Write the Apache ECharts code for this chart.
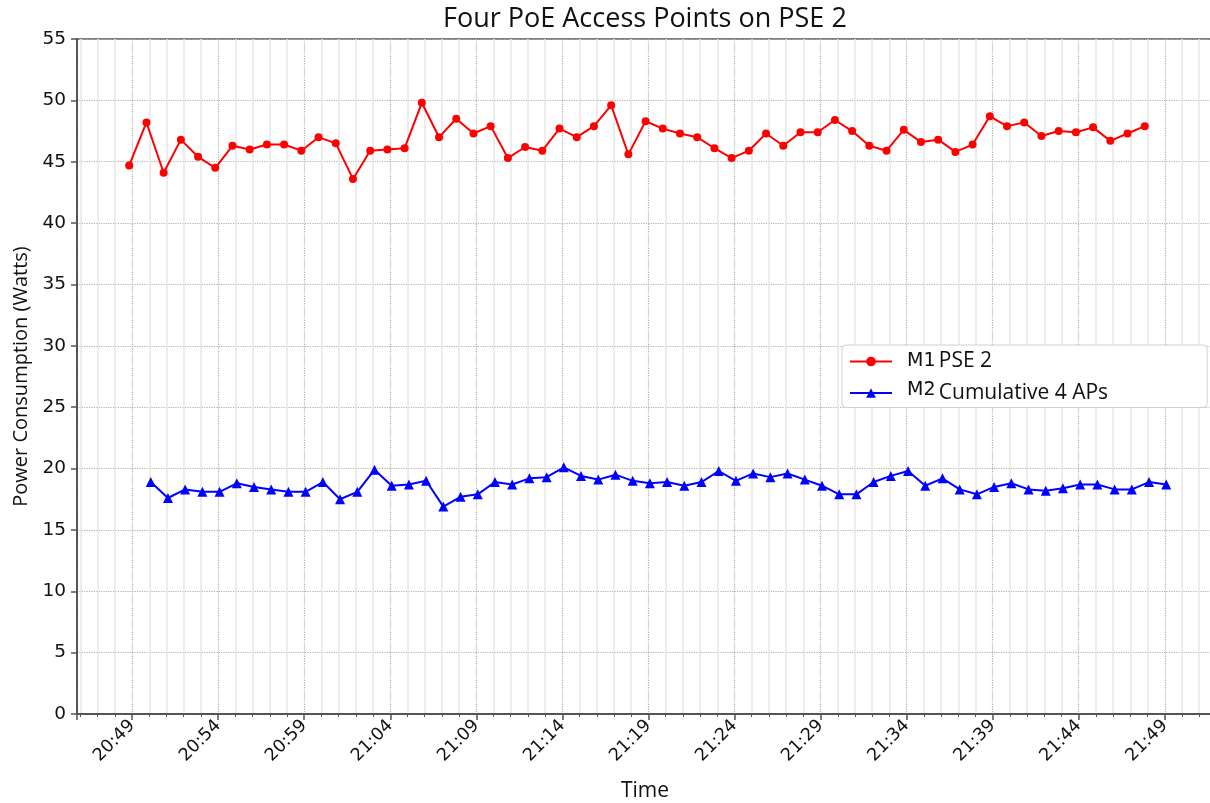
<!DOCTYPE html>
<html>
<head>
<meta charset="utf-8">
<script src="https://cdn.jsdelivr.net/npm/echarts@6/dist/echarts.min.js"></script>
<style>
    html,body{margin:0;padding:0;background:#fff;}
    #poe{width:1210px;height:803px;}
</style>
</head>
<body>
<div id="poe"></div>
<script>
// one sample per minute
const redStart = '20:48:50';
const blueStart = '20:50:05';
const redValues = [44.7, 48.2, 44.1, 46.8, 45.4, 44.5, 46.3, 46.0, 46.4, 46.4,
    45.9, 47.0, 46.5, 43.6, 45.9, 46.0, 46.1, 49.8, 47.0, 48.5,
    47.3, 47.9, 45.3, 46.2, 45.9, 47.7, 47.0, 47.9, 49.6, 45.6,
    48.3, 47.7, 47.3, 47.0, 46.1, 45.3, 45.9, 47.3, 46.3, 47.4,
    47.4, 48.4, 47.5, 46.3, 45.9, 47.6, 46.6, 46.8, 45.8, 46.4,
    48.7, 47.9, 48.2, 47.1, 47.5, 47.4, 47.8, 46.7, 47.3, 47.9];
const blueValues = [18.9, 17.6, 18.3, 18.1, 18.1, 18.8, 18.5, 18.3, 18.1, 18.1,
    18.9, 17.5, 18.1, 19.9, 18.6, 18.7, 19.0, 16.9, 17.7, 17.9,
    18.9, 18.7, 19.2, 19.3, 20.1, 19.4, 19.1, 19.5, 19.0, 18.8,
    18.9, 18.6, 18.9, 19.8, 19.0, 19.6, 19.3, 19.6, 19.1, 18.6,
    17.9, 17.9, 18.9, 19.4, 19.8, 18.6, 19.2, 18.3, 17.9, 18.5,
    18.8, 18.3, 18.2, 18.4, 18.7, 18.7, 18.3, 18.3, 18.9, 18.7];
const xTickLabels = ['20:49', '20:54', '20:59', '21:04', '21:09', '21:14', '21:19',
    '21:24', '21:29', '21:34', '21:39', '21:44', '21:49'];
const seriesNames = ['M1 PSE 2', 'M2 Cumulative 4 APs'];

// x axis is in minutes counted from the first tick label (20:49)
function toMin(str){
    let p = str.split(':').map(Number);
    let b = xTickLabels[0].split(':').map(Number);
    return (p[0]*60 + p[1] + (p[2] || 0)/60) - (b[0]*60 + b[1]);
}
function pairs(start, values){
    let t0 = toMin(start);
    return values.map((v, i) => [t0 + i, v]);
}

let chart = echarts.init(document.getElementById('poe'));
let axisColor = '#555';
let txt = '#111';
let option = {
    animation: false,
    backgroundColor: '#fff',
    title: {
        text: 'Four PoE Access Points on PSE 2',
        left: 438,
        top: 1,
        textStyle: {fontFamily: 'Open Sans', fontSize: 27, fontWeight: 'normal', color: '#111'}
    },
    legend: {
        orient: 'vertical',
        left: 842,
        top: 345,
        padding: [6, 99, 4, 7],
        itemWidth: 42,
        itemHeight: 12,
        itemGap: 9,
        backgroundColor: '#fff',
        borderColor: '#d0d0d0',
        borderWidth: 1,
        borderRadius: 4,
        data: seriesNames,
        formatter: function(name){
            let i = name.indexOf(' ');
            // the second entry's prefix sits a little higher in the original
            let tag = name === seriesNames[1] ? 'c' : 'a';
            return '{' + tag + '|' + name.slice(0, i) + '} {b|' + name.slice(i + 1) + '}';
        },
        textStyle: {
            padding: [0, 0, 0, 10],
            rich: {
                a: {fontFamily: 'DejaVu Sans', fontSize: 19, color: txt},
                c: {fontFamily: 'DejaVu Sans', fontSize: 19, color: txt, padding: [0, 0, 5, 0]},
                b: {fontFamily: 'Open Sans', fontSize: 21, color: txt}
            }
        }
    },
    grid: {
        left: 77,
        top: 39,
        width: 1136,
        bottom: 89,
        show: true,
        borderColor: axisColor,
        borderWidth: 1.5,
        containLabel: false,
        outerBoundsMode: 'none'
    },
    xAxis: {
        type: 'value',
        min: -3.2,
        max: 62.8,
        minInterval: 5,
        maxInterval: 5,
        name: 'Time',
        nameLocation: 'middle',
        nameGap: 67,
        nameTextStyle: {fontFamily: 'Open Sans', fontSize: 21, color: txt},
        axisLine: {show: true, onZero: false, lineStyle: {color: axisColor, width: 2}},
        axisTick: {show: true, length: 6, lineStyle: {color: axisColor, width: 1.5}},
        minorTick: {show: true, splitNumber: 5, length: 3, lineStyle: {color: axisColor, width: 1}},
        axisLabel: {
            rotate: 45,
            margin: 9,
            fontFamily: 'DejaVu Sans',
            fontSize: 17.5,
            color: txt,
            showMinLabel: true,
            showMaxLabel: true,
            formatter: function(v){
                let k = Math.round(v);
                if (Math.abs(v - k) > 1e-6 || k % 5 !== 0) return '';
                return xTickLabels[k / 5] || '';
            }
        },
        splitLine: {show: true, lineStyle: {color: '#b0b0b0', type: 'dotted', width: 1.2}},
        minorSplitLine: {show: true, lineStyle: {color: '#e6e6e6', width: 1.5}}
    },
    yAxis: {
        type: 'value',
        min: 0,
        max: 55,
        interval: 5,
        name: 'Power Consumption (Watts)',
        nameLocation: 'middle',
        nameGap: 37,
        nameTextStyle: {fontFamily: 'Open Sans', fontSize: 20, color: txt},
        axisLine: {show: true, onZero: false, lineStyle: {color: axisColor, width: 2}},
        axisTick: {show: true, length: 6, lineStyle: {color: axisColor, width: 1.5}},
        axisLabel: {fontFamily: 'DejaVu Sans', fontSize: 18.5, color: txt, margin: 11},
        splitLine: {show: true, lineStyle: {color: '#b0b0b0', type: 'dotted', width: 1.2}}
    },
    series: [
        {
            name: seriesNames[0],
            type: 'line',
            data: pairs(redStart, redValues),
            symbol: 'circle',
            symbolSize: 8,
            showAllSymbol: true,
            color: '#ff0000',
            lineStyle: {color: '#ff0000', width: 2},
            itemStyle: {color: '#ff0000'}
        },
        {
            name: seriesNames[1],
            type: 'line',
            data: pairs(blueStart, blueValues),
            symbol: 'triangle',
            symbolSize: 10,
            showAllSymbol: true,
            color: '#0000ff',
            lineStyle: {color: '#0000ff', width: 2},
            itemStyle: {color: '#0000ff'}
        }
    ]
};
chart.setOption(option);
</script>
</body>
</html>
